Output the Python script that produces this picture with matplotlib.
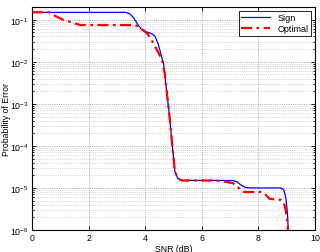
import matplotlib
matplotlib.use("Agg")
import matplotlib.pyplot as plt
from matplotlib.ticker import LogLocator, NullFormatter

plt.rcParams["font.family"] = ["Liberation Sans", "DejaVu Sans"]
plt.rcParams["mathtext.fontset"] = "custom"
plt.rcParams["mathtext.rm"] = "Liberation Sans"

# Sign detector
sign_x = [0, 3.3, 3.45, 3.6, 3.75, 3.9, 4.1, 4.25, 4.35, 4.45, 4.55, 4.65,
          4.75, 4.85, 4.95, 5.05, 5.15, 5.3, 7.1, 7.25, 7.4, 7.55, 7.7,
          8.8, 8.9, 8.97, 9.03, 9.08]
sign_y = [0.15, 0.15, 0.14, 0.11, 0.075, 0.056, 0.05, 0.046, 0.04, 0.028,
          0.016, 0.009, 0.0023, 6e-4, 1.2e-4, 2.5e-5, 1.7e-5, 1.52e-5,
          1.5e-5, 1.4e-5, 1.15e-5, 1.03e-5, 1e-5, 1e-5, 9e-6, 6e-6, 2.5e-6,
          5e-7]

# Optimal detector
opt_x = [0, 0.6, 0.85, 1.1, 1.45, 1.7, 3.65, 3.8, 3.95, 4.1, 4.2, 4.3,
         4.4, 4.5, 4.6, 4.7, 4.75, 4.85, 4.95, 5.05, 5.15, 5.3, 6.5, 6.8,
         7.1, 7.25, 7.4, 7.5, 8.1, 8.25, 8.4, 8.8, 8.9, 8.97, 9.03, 9.08]
opt_y = [0.15, 0.15, 0.12, 0.1, 0.085, 0.075, 0.075, 0.065, 0.055, 0.045,
         0.035, 0.027, 0.02, 0.015, 0.011, 0.005, 0.0023, 6e-4, 1.2e-4,
         2.5e-5, 1.7e-5, 1.5e-5, 1.5e-5, 1.42e-5, 1.3e-5, 1.1e-5, 8.5e-6,
         8e-6, 8e-6, 7e-6, 5.5e-6, 5.2e-6, 4.5e-6, 3e-6, 1.5e-6, 5e-7]

fig = plt.figure(figsize=(3.2, 2.53), dpi=100)
ax = fig.add_axes([0.1, 0.087, 0.884, 0.881])

ax.semilogy(sign_x, sign_y, color="#0000ff", lw=0.9, label="Sign")
ax.semilogy(opt_x, opt_y, color="#ff0000", lw=1.6, ls=(0, (5, 2, 1.2, 2)),
            label="Optimal")

ax.set_xlim(0, 10)
ax.set_ylim(1e-6, 0.2)
ax.set_xticks([0, 2, 4, 6, 8, 10])
ax.yaxis.set_major_locator(LogLocator(base=10, numticks=10))
ax.yaxis.set_minor_locator(LogLocator(base=10, subs=range(2, 10), numticks=20))
ax.yaxis.set_minor_formatter(NullFormatter())

ax.grid(True, which="major", ls=":", color="0.55", lw=0.6)
ax.grid(True, which="minor", axis="y", ls=":", color="0.72", lw=0.5)

ax.tick_params(which="both", direction="in", top=True, right=True,
               labelsize=6.3, length=3, width=0.6, pad=2.5)
ax.tick_params(which="minor", length=1.5)
for s in ax.spines.values():
    s.set_linewidth(0.8)

ax.set_xlabel("SNR (dB)", fontsize=6.3, labelpad=1)
ax.set_ylabel("Probability of Error", fontsize=6.3, labelpad=1)
ax.yaxis.set_label_coords(-0.075, 0.5)

leg = ax.legend(loc="upper right", fontsize=6.5, fancybox=False,
                edgecolor="black", framealpha=1, handlelength=3.2,
                borderpad=0.3, labelspacing=0.2, borderaxespad=0.4)
leg.get_frame().set_linewidth(0.6)

fig.savefig("out.png", dpi=100)
